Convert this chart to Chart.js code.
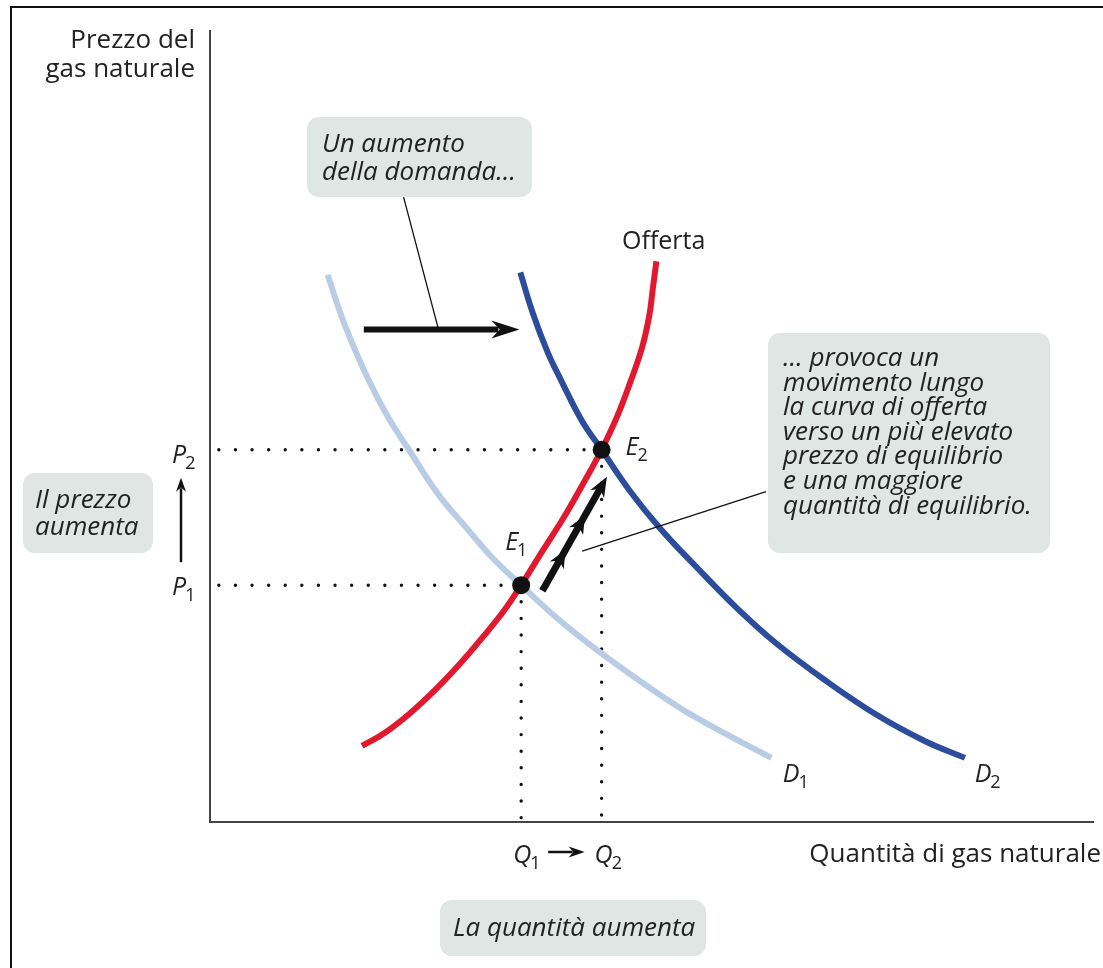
<!DOCTYPE html>
<html>
<head>
<meta charset="utf-8">
<script src="https://cdn.jsdelivr.net/npm/chart.js"></script>
<style>
  html, body { margin: 0; background: #fff; }
  #wrap { width: 1103px; height: 968px; }
</style>
</head>
<body>
<div id="wrap"><canvas id="chart"></canvas></div>
<script>
// quantity (x) and price (y), both on a 0..100 scale
const supplyQ = [17.2, 19.7, 22.5, 25.5, 28.3, 30.9, 33.2, 35.2, 37.6, 40.1, 42.4, 44.3, 46.1, 47.6, 48.9, 49.7, 50.1, 50.5];
const supplyP = [9.6, 11.2, 13.6, 16.7, 20.0, 23.4, 26.6, 29.9, 34.2, 38.6, 43.1, 47.0, 51.3, 55.7, 60.0, 64.0, 67.4, 70.8];

const demand1Q = [13.3, 15.2, 17.9, 20.2, 22.5, 25.8, 28.8, 32.0, 35.2, 39.4, 43.8, 49.4, 53.6, 58.4, 63.5];
const demand1P = [69.1, 62.9, 55.9, 51.0, 47.0, 41.4, 37.4, 33.3, 29.9, 25.6, 21.7, 17.2, 14.1, 11.1, 8.1];

const demand2Q = [35.1, 36.5, 38.2, 39.7, 42.1, 44.3, 47.5, 50.9, 55.1, 59.6, 64.0, 69.7, 75.3, 80.9, 85.4];
const demand2P = [69.4, 64.3, 59.3, 55.8, 50.6, 47.0, 41.8, 37.1, 32.1, 27.0, 22.6, 17.8, 13.6, 10.2, 8.1];

// equilibria E1, E2
const eqQ = [35.2, 44.3];
const eqP = [29.9, 47.0];

const zip = (xs, ys) => xs.map((x, i) => ({ x: x, y: ys[i] }));

const RED = '#e2182f';
const DARK_BLUE = '#2c4d9b';
const LIGHT_BLUE = '#b9cce5';
const INK = '#222';
const BOX = '#dfe6e3';

function dotted(points) {
  return {
    data: points,
    showLine: true,
    borderColor: '#111',
    borderWidth: 3.4,
    borderDash: [0, 16.6],
    borderCapStyle: 'round',
    pointRadius: 0,
    order: 5,
  };
}

function curve(points, color, order) {
  return {
    data: points,
    showLine: true,
    borderColor: color,
    borderWidth: 6,
    tension: 0.4,
    pointRadius: 0,
    order: order,
  };
}

function roundRect(ctx, x, y, w, h, r, fill) {
  ctx.beginPath();
  ctx.moveTo(x + r, y);
  ctx.arcTo(x + w, y, x + w, y + h, r);
  ctx.arcTo(x + w, y + h, x, y + h, r);
  ctx.arcTo(x, y + h, x, y, r);
  ctx.arcTo(x, y, x + w, y, r);
  ctx.closePath();
  ctx.fillStyle = fill;
  ctx.fill();
}

// arrow head with a notched back, tip at (x, y) pointing along angle a
function head(ctx, x, y, a, len, half) {
  ctx.save();
  ctx.translate(x, y);
  ctx.rotate(a);
  ctx.beginPath();
  ctx.moveTo(0, 0);
  ctx.lineTo(-len, -half);
  ctx.lineTo(-len * 0.7, 0);
  ctx.lineTo(-len, half);
  ctx.closePath();
  ctx.fill();
  ctx.restore();
}

function arrow(ctx, x1, y1, x2, y2, w, len, half) {
  const a = Math.atan2(y2 - y1, x2 - x1);
  ctx.beginPath();
  ctx.moveTo(x1, y1);
  ctx.lineTo(x2 - Math.cos(a) * len * 0.75, y2 - Math.sin(a) * len * 0.75);
  ctx.lineWidth = w;
  ctx.stroke();
  head(ctx, x2, y2, a, len, half);
}

function sub(ctx, main, s, x, y, size) {
  ctx.font = 'italic ' + size + 'px "Open Sans"';
  ctx.fillText(main, x, y);
  const w = ctx.measureText(main).width;
  ctx.font = Math.round(size * 0.72) + 'px "Open Sans"';
  ctx.fillText(s, x + w - 1, y + 6);
}

const diagram = {
  id: 'diagram',
  beforeDatasetsDraw(chart) {
    const { ctx, chartArea: ca } = chart;
    ctx.save();
    // frame
    ctx.strokeStyle = '#111';
    ctx.lineWidth = 2;
    ctx.beginPath();
    ctx.moveTo(11, 975);
    ctx.lineTo(11, 7);
    ctx.lineTo(1103, 7);
    ctx.stroke();
    // axes
    ctx.strokeStyle = '#444';
    ctx.lineWidth = 2;
    ctx.beginPath();
    ctx.moveTo(ca.left, ca.top);
    ctx.lineTo(ca.left, ca.bottom);
    ctx.lineTo(ca.right, ca.bottom);
    ctx.stroke();
    ctx.restore();
  },
  afterDatasetsDraw(chart) {
    const { ctx, chartArea: ca } = chart;
    const xs = chart.scales.x, ys = chart.scales.y;
    const X = v => xs.getPixelForValue(v);
    const Y = v => ys.getPixelForValue(v);
    const q1 = X(eqQ[0]), q2 = X(eqQ[1]);
    const p1 = Y(eqP[0]), p2 = Y(eqP[1]);

    ctx.save();
    ctx.fillStyle = '#111';
    ctx.strokeStyle = '#111';
    ctx.lineCap = 'butt';

    // demand shift arrow and its leader
    arrow(ctx, X(17.4), Y(62.2), X(35.0), Y(62.2), 6, 28, 9);
    ctx.lineWidth = 1.3;
    ctx.beginPath();
    ctx.moveTo(X(21.9), Y(78.9));
    ctx.lineTo(X(25.8), Y(62.4));
    ctx.stroke();

    // movement along supply
    const sx = X(37.6), sy = Y(29.2), ex = X(44.9), ey = Y(43.6);
    const a = Math.atan2(ey - sy, ex - sx);
    ctx.lineWidth = 7;
    ctx.beginPath();
    ctx.moveTo(sx, sy);
    ctx.lineTo(ex - Math.cos(a) * 12, ey - Math.sin(a) * 12);
    ctx.stroke();
    head(ctx, ex, ey, a, 20, 8);
    [0.36, 0.66].forEach(t => {
      head(ctx, sx + (ex - sx) * t, sy + (ey - sy) * t, a, 18, 8);
    });
    ctx.lineWidth = 1.3;
    ctx.beginPath();
    ctx.moveTo(X(42.1), Y(34.2));
    ctx.lineTo(X(62.9), Y(41.7));
    ctx.stroke();

    // price up arrow
    arrow(ctx, ca.left - 29, p1 - 23, ca.left - 29, p2 + 28, 2.5, 14, 5);
    // quantity arrow
    arrow(ctx, q1 + 27, ca.bottom + 30, q2 - 17, ca.bottom + 30, 2.5, 16, 5.5);

    // axis titles
    ctx.fillStyle = INK;
    ctx.font = '26px "Open Sans"';
    ctx.textAlign = 'right';
    ctx.fillText('Prezzo del', ca.left - 15, 48);
    ctx.fillText('gas naturale', ca.left - 15, 77);
    ctx.fillText('Quantità di gas naturale', 1101, 862);
    ctx.textAlign = 'left';
    ctx.font = '25px "Open Sans"';
    ctx.fillText('Offerta', X(46.6), Y(72.3));

    // point and curve labels
    sub(ctx, 'D', '1', X(64.8), Y(5.0), 25);
    sub(ctx, 'D', '2', X(86.5), Y(5.0), 25);
    sub(ctx, 'E', '1', q1 - 16, p1 - 35, 25);
    sub(ctx, 'E', '2', q2 + 24, p2 + 5, 25);
    sub(ctx, 'P', '2', ca.left - 38, p2 + 13, 25);
    sub(ctx, 'P', '1', ca.left - 38, p1 + 10, 25);
    sub(ctx, 'Q', '1', q1 - 8, ca.bottom + 41, 25);
    sub(ctx, 'Q', '2', q2 - 7, ca.bottom + 41, 25);

    // callout boxes
    ctx.font = 'italic 26px "Open Sans"';
    roundRect(ctx, 307, 117, 225, 80, 12, BOX);
    ctx.fillStyle = INK;
    ctx.fillText('Un aumento', 322, 152);
    ctx.fillText('della domanda…', 322, 180);

    const lines = ['… provoca un', 'movimento lungo', 'la curva di offerta',
      'verso un più elevato', 'prezzo di equilibrio', 'e una maggiore',
      'quantità di equilibrio.'];
    roundRect(ctx, 768, 333, 282, 220, 12, BOX);
    ctx.fillStyle = INK;
    lines.forEach((t, i) => ctx.fillText(t, 783, 366 + i * 24.6));

    roundRect(ctx, 23, 473, 130, 80, 12, BOX);
    ctx.fillStyle = INK;
    ctx.fillText('Il prezzo', 35, 508);
    ctx.fillText('aumenta', 35, 535);

    roundRect(ctx, 440, 900, 266, 56, 12, BOX);
    ctx.fillStyle = INK;
    ctx.fillText('La quantità aumenta', 453, 936);
    ctx.restore();
  },
};

new Chart(document.getElementById('chart'), {
  type: 'scatter',
  data: {
    datasets: [
      {
        data: zip(eqQ, eqP),
        pointRadius: 9,
        pointBackgroundColor: '#111',
        pointBorderWidth: 0,
        order: 0,
      },
      curve(zip(supplyQ, supplyP), RED, 1),
      curve(zip(demand2Q, demand2P), DARK_BLUE, 2),
      curve(zip(demand1Q, demand1P), LIGHT_BLUE, 3),
      dotted([{ x: 1, y: eqP[1] }, { x: eqQ[1], y: eqP[1] }]),
      dotted([{ x: 1, y: eqP[0] }, { x: eqQ[0], y: eqP[0] }]),
      dotted([{ x: eqQ[0], y: eqP[0] }, { x: eqQ[0], y: 0.5 }]),
      dotted([{ x: eqQ[1], y: eqP[1] }, { x: eqQ[1], y: 0.5 }]),
    ],
  },
  options: {
    responsive: true,
    maintainAspectRatio: false,
    animation: false,
    layout: { padding: { left: 210, top: 30, right: 2, bottom: 146 } },
    scales: {
      x: { type: 'linear', min: 0, max: 100, display: false },
      y: { type: 'linear', min: 0, max: 100, display: false },
    },
    plugins: {
      legend: { display: false },
      tooltip: { enabled: false },
    },
    elements: { line: { fill: false } },
  },
  plugins: [diagram],
});
</script>
</body>
</html>
